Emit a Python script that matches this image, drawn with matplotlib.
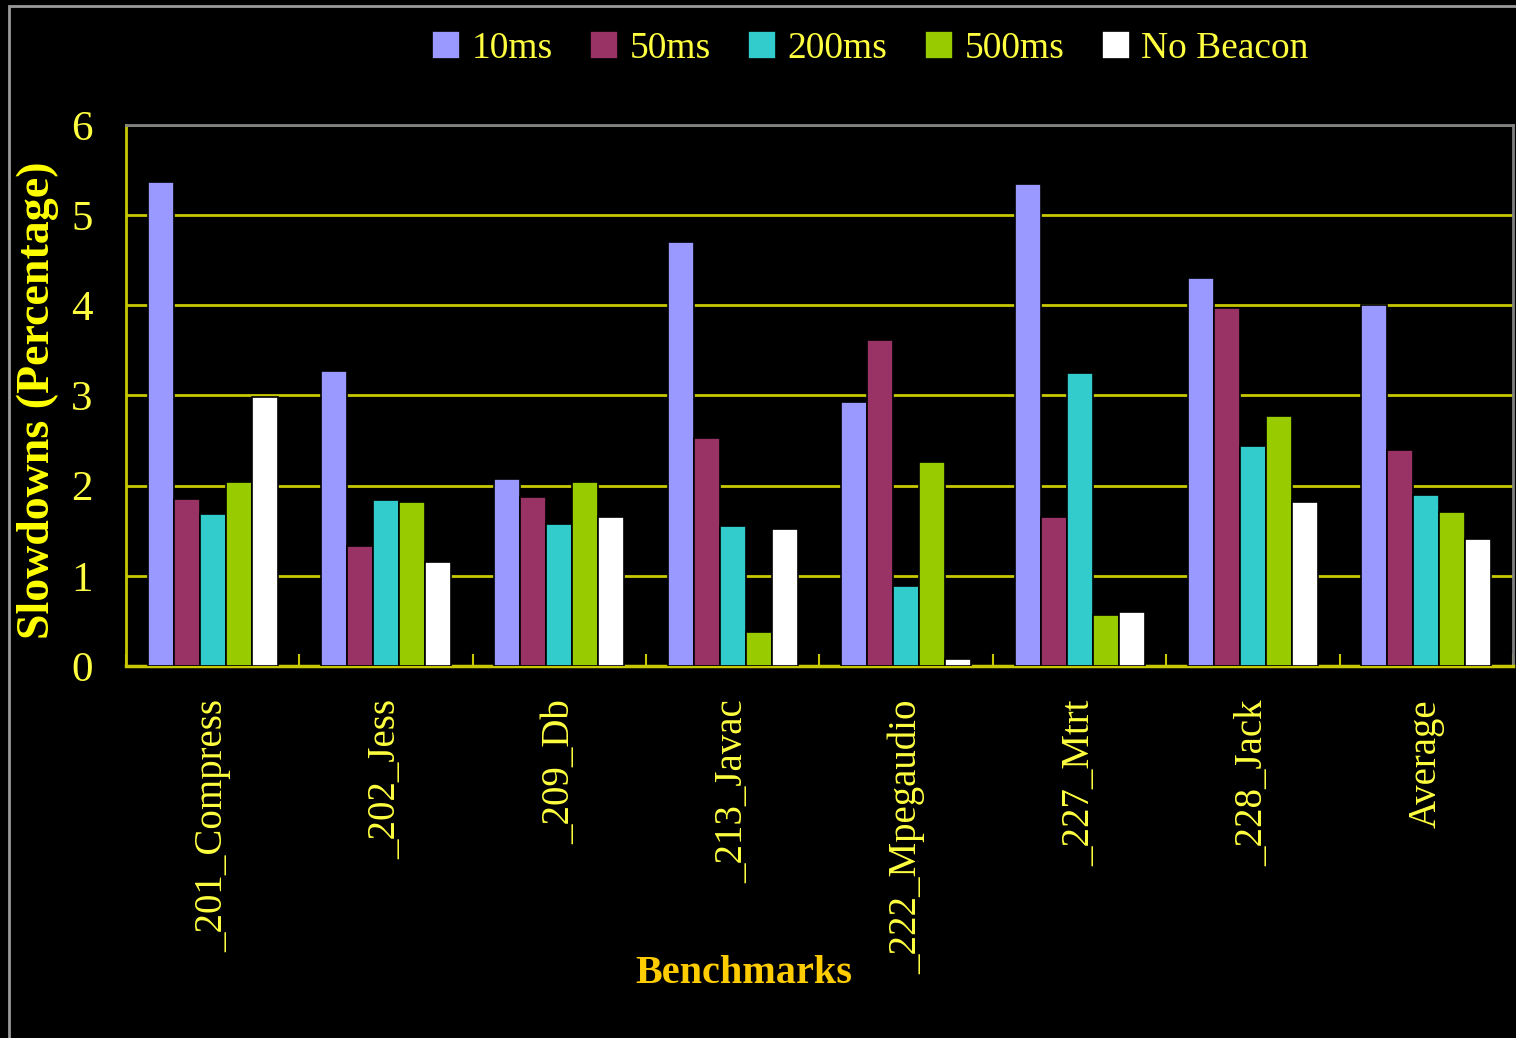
import numpy as np
import matplotlib
matplotlib.use("Agg")
import matplotlib.pyplot as plt
from matplotlib.patches import Rectangle

# data
benchmarks = ["_201_Compress", "_202_Jess", "_209_Db", "_213_Javac",
              "_222_Mpegaudio", "_227_Mtrt", "_228_Jack", "Average"]
series_names = ["10ms", "50ms", "200ms", "500ms", "No Beacon"]
ms10 = [5.37, 3.27, 2.07, 4.70, 2.93, 5.35, 4.30, 4.00]
ms50 = [1.85, 1.33, 1.87, 2.53, 3.61, 1.65, 3.97, 2.39]
ms200 = [1.69, 1.84, 1.57, 1.55, 0.89, 3.25, 2.44, 1.90]
ms500 = [2.04, 1.82, 2.04, 0.38, 2.26, 0.57, 2.77, 1.71]
no_beacon = [2.98, 1.15, 1.65, 1.52, 0.08, 0.60, 1.82, 1.41]
y_ticks = [0, 1, 2, 3, 4, 5, 6]

colors = ["#9999FF", "#993366", "#33CCCC", "#99CC00", "#FFFFFF"]
yellow = "#FFFF40"
grid_yellow = "#C8C800"

plt.rcParams["font.family"] = ["Liberation Serif", "DejaVu Serif"]

fig = plt.figure(figsize=(15.16, 10.38), dpi=100, facecolor="black")
ax = fig.add_axes([0.0831, 0.3584, 0.9149, 0.5212], facecolor="black")

x = np.arange(len(benchmarks))
w = 0.15
all_series = [ms10, ms50, ms200, ms500, no_beacon]
for i, vals in enumerate(all_series):
    ax.bar(x + (i - 2) * w, vals, w, color=colors[i], edgecolor="black",
           linewidth=1.2, label=series_names[i], zorder=3)

ax.set_xlim(-0.5, len(benchmarks) - 0.5)
ax.set_ylim(0, 6)
ax.set_yticks(y_ticks)
ax.yaxis.grid(True, color=grid_yellow, linewidth=2, zorder=0)
ax.set_axisbelow(True)

ax.set_xticks(x)
ax.set_xticklabels(benchmarks, rotation=90, color=yellow, fontsize=28)
ax.set_xticks(np.arange(-0.5, len(benchmarks)), minor=True)
ax.tick_params(axis="x", which="major", length=0, pad=24)
ax.tick_params(axis="x", which="minor", direction="in", length=9,
               color=grid_yellow, width=1.5)
ax.tick_params(axis="y", length=0, pad=24, labelcolor=yellow, labelsize=31)

ax.spines["left"].set_color(grid_yellow)
ax.spines["bottom"].set_color(grid_yellow)
ax.spines["left"].set_linewidth(2)
ax.spines["bottom"].set_linewidth(2.5)
ax.spines["top"].set_color("#808080")
ax.spines["right"].set_color("#808080")
ax.spines["top"].set_linewidth(2)
ax.spines["right"].set_linewidth(2)

fig.text(0.025, 0.6146, "Slowdowns (Percentage)", rotation=90, ha="center",
         va="center", color="#FFFF00", fontsize=33, fontweight="bold")
fig.text(0.491, 0.0626, "Benchmarks", ha="center", va="center",
         color="#FFCC00", fontsize=29, fontweight="bold")

leg = fig.legend(loc="center", bbox_to_anchor=(0.574, 0.953), ncol=5,
                 frameon=False, fontsize=27, handlelength=0.75,
                 handleheight=0.75, handletextpad=0.3, columnspacing=1.0)
for t in leg.get_texts():
    t.set_color(yellow)

# thin grey outer border
fig.patches.append(Rectangle((9 / 1516, -0.02), 1.1, 1.02 - 6 / 1038,
                             transform=fig.transFigure, fill=False,
                             edgecolor="#9a9a9a", linewidth=2))

fig.savefig("out.png", dpi=100, facecolor="black")
